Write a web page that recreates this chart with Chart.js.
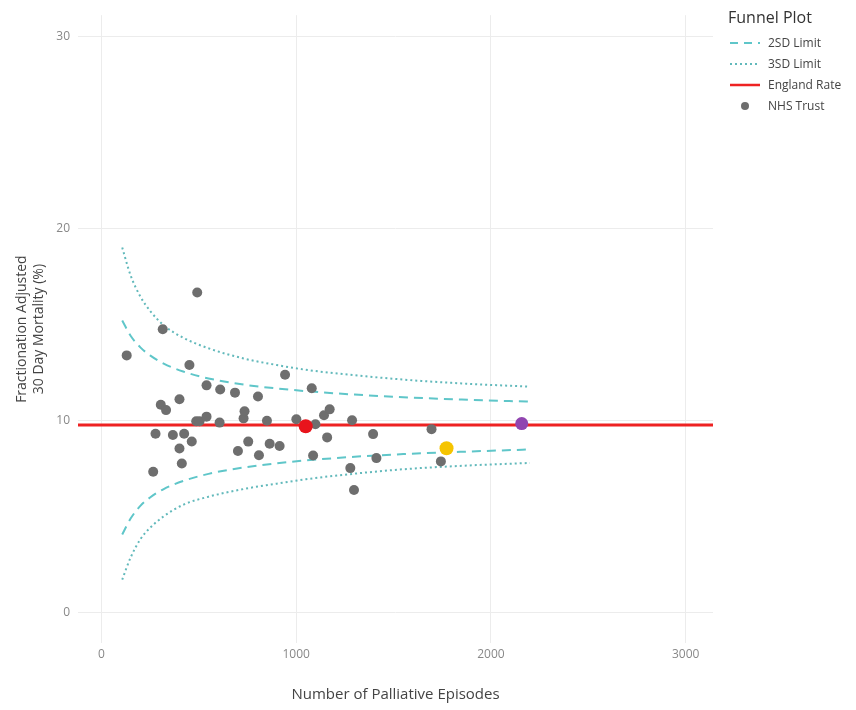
<!DOCTYPE html>
<html>
<head>
<meta charset="utf-8">
<script src="https://cdn.jsdelivr.net/npm/chart.js@4"></script>
<style>
  body { margin: 0; background: #fff; font-family: "Open Sans", sans-serif; }
  #wrap { position: relative; width: 856px; height: 710px; overflow: hidden; }
  #legend { position: absolute; left: 728px; top: 6px; color: #444; white-space: nowrap; }
  #legend .title { font-size: 16px; color: #333; margin-bottom: 4px; }
  #legend .item { display: flex; align-items: center; height: 21px; font-size: 12px; }
  #legend svg { width: 36px; height: 10px; margin-right: 4px; }
</style>
</head>
<body>
<div id="wrap">
  <canvas id="myChart" width="856" height="710"></canvas>
  <div id="legend">
    <div class="title">Funnel Plot</div>
    <div class="item"><svg><line x1="2" y1="5" x2="32" y2="5" stroke="#5fc6c9" stroke-width="2" stroke-dasharray="8,6"/></svg>2SD Limit</div>
    <div class="item"><svg><line x1="2" y1="5" x2="32" y2="5" stroke="#62b9bb" stroke-width="2" stroke-dasharray="2,3"/></svg>3SD Limit</div>
    <div class="item"><svg><line x1="2" y1="5" x2="32" y2="5" stroke="#ee2222" stroke-width="2.5"/></svg>England Rate</div>
    <div class="item"><svg><circle cx="17" cy="5" r="4" fill="#6e6e6e"/></svg>NHS Trust</div>
  </div>
</div>
<script>
// Tick labels
const xTicks = [0, 1000, 2000, 3000];
const yTicks = [0, 10, 20, 30];

// NHS trusts: episodes and adjusted mortality (%)
const trustEpisodes = [130, 266, 278, 305, 315, 332, 367, 401, 401, 413, 425, 452, 464, 487, 492,
    504, 540, 540, 607, 610, 686, 701, 730, 735, 754, 804, 809, 850, 864, 915, 943,
    1001, 1080, 1087, 1099, 1143, 1159, 1172, 1278, 1287, 1297, 1395, 1412, 1695, 1743];
const trustMortality = [13.38, 7.32, 9.3, 10.81, 14.74, 10.53, 9.23, 11.1, 8.53, 7.75, 9.3, 12.88, 8.9, 9.95, 16.66,
    9.95, 11.82, 10.19, 9.88, 11.6, 11.44, 8.4, 10.1, 10.47, 8.89, 11.24, 8.18, 9.98, 8.78, 8.66, 12.37,
    10.05, 11.67, 8.17, 9.79, 10.26, 9.11, 10.57, 7.51, 10.0, 6.37, 9.28, 8.03, 9.54, 7.86];

// highlighted trusts
const highlightEpisodes = [1049, 1772, 2158];
const highlightMortality = [9.69, 8.54, 9.83];
const highlightColours = ['#e8141c', '#f5c400', '#9145b0'];
const highlightRadius = [7, 7, 6.5];

// England rate and funnel limits
const englandRate = 9.75;
const limitEpisodes = [107, 150, 200, 250, 320, 420, 550, 730, 900, 1050, 1300, 1550, 1850, 2200];
const upper2SD = [15.2, 14.4, 13.8, 13.38, 12.95, 12.54, 12.18, 11.86, 11.66, 11.52, 11.34, 11.2, 11.08, 10.97];
const lower2SD = [4.05, 4.88, 5.54, 5.98, 6.42, 6.84, 7.21, 7.54, 7.76, 7.91, 8.1, 8.24, 8.36, 8.48];
const upper3SD = [19.0, 17.55, 16.45, 15.7, 14.95, 14.3, 13.75, 13.22, 12.88, 12.63, 12.35, 12.12, 11.92, 11.75];
const lower3SD = [1.7, 2.85, 3.8, 4.4, 5.0, 5.6, 6.02, 6.42, 6.7, 6.93, 7.22, 7.45, 7.63, 7.78];

const xMin = -120, xMax = 3140;
const yMin = -1.6, yMax = 31.1;

function pts(xs, ys) {
    return xs.map(function(x, i) { return { x: x, y: ys[i] }; });
}

function limitLine(ys, colour, dash, order) {
    return {
        data: pts(limitEpisodes, ys),
        showLine: true,
        borderColor: colour,
        borderWidth: 2,
        borderDash: dash,
        pointRadius: 0,
        cubicInterpolationMode: 'monotone',
        fill: false,
        order: order
    };
}

const dashed = '#5fc6c9';
const dotted = '#62b9bb';

const data = {
    datasets: [
        {
            data: pts(highlightEpisodes, highlightMortality),
            backgroundColor: highlightColours,
            pointRadius: highlightRadius,
            borderWidth: 0,
            order: 0
        },
        {
            data: pts(trustEpisodes, trustMortality),
            backgroundColor: '#6e6e6e',
            pointRadius: 5,
            borderWidth: 0,
            order: 1
        },
        {
            data: [{ x: xMin, y: englandRate }, { x: xMax, y: englandRate }],
            showLine: true,
            borderColor: '#ee2222',
            borderWidth: 3,
            pointRadius: 0,
            order: 2
        },
        limitLine(upper2SD, dashed, [9, 6], 3),
        limitLine(lower2SD, dashed, [9, 6], 3),
        limitLine(upper3SD, dotted, [2, 3], 4),
        limitLine(lower3SD, dotted, [2, 3], 4)
    ]
};

const tickFont = { family: 'Open Sans', size: 12 };
const plainTick = function(v) { return String(v); };

const config = {
    type: 'scatter',
    data: data,
    options: {
        responsive: false,
        animation: false,
        layout: { padding: { left: 0, right: 143, top: 8, bottom: 0 } },
        plugins: { legend: { display: false }, tooltip: { enabled: false } },
        scales: {
            x: {
                type: 'linear',
                min: xMin,
                max: xMax,
                afterBuildTicks: function(s) { s.ticks = xTicks.map(function(v) { return { value: v }; }); },
                afterFit: function(s) { s.height = 67; },
                grid: { color: '#ececec', drawTicks: false },
                border: { display: false },
                ticks: { color: '#888', font: tickFont, padding: 4, callback: plainTick },
                title: {
                    display: true,
                    text: 'Number of Palliative Episodes',
                    color: '#444',
                    font: { family: 'Open Sans', size: 15 },
                    padding: { top: 0, bottom: 6 }
                }
            },
            y: {
                type: 'linear',
                min: yMin,
                max: yMax,
                afterBuildTicks: function(s) { s.ticks = yTicks.map(function(v) { return { value: v }; }); },
                afterFit: function(s) { s.width = 78; },
                grid: { color: '#ececec', drawTicks: false },
                border: { display: false },
                ticks: { color: '#888', font: tickFont, padding: 8, callback: plainTick },
                title: {
                    display: true,
                    text: ['Fractionation Adjusted', '30 Day Mortality (%)'],
                    color: '#444',
                    font: { family: 'Open Sans', size: 14, lineHeight: 1.25 },
                    padding: { top: 13, bottom: 0 }
                }
            }
        }
    }
};

const myChart = new Chart(document.getElementById('myChart'), config);
</script>
</body>
</html>
